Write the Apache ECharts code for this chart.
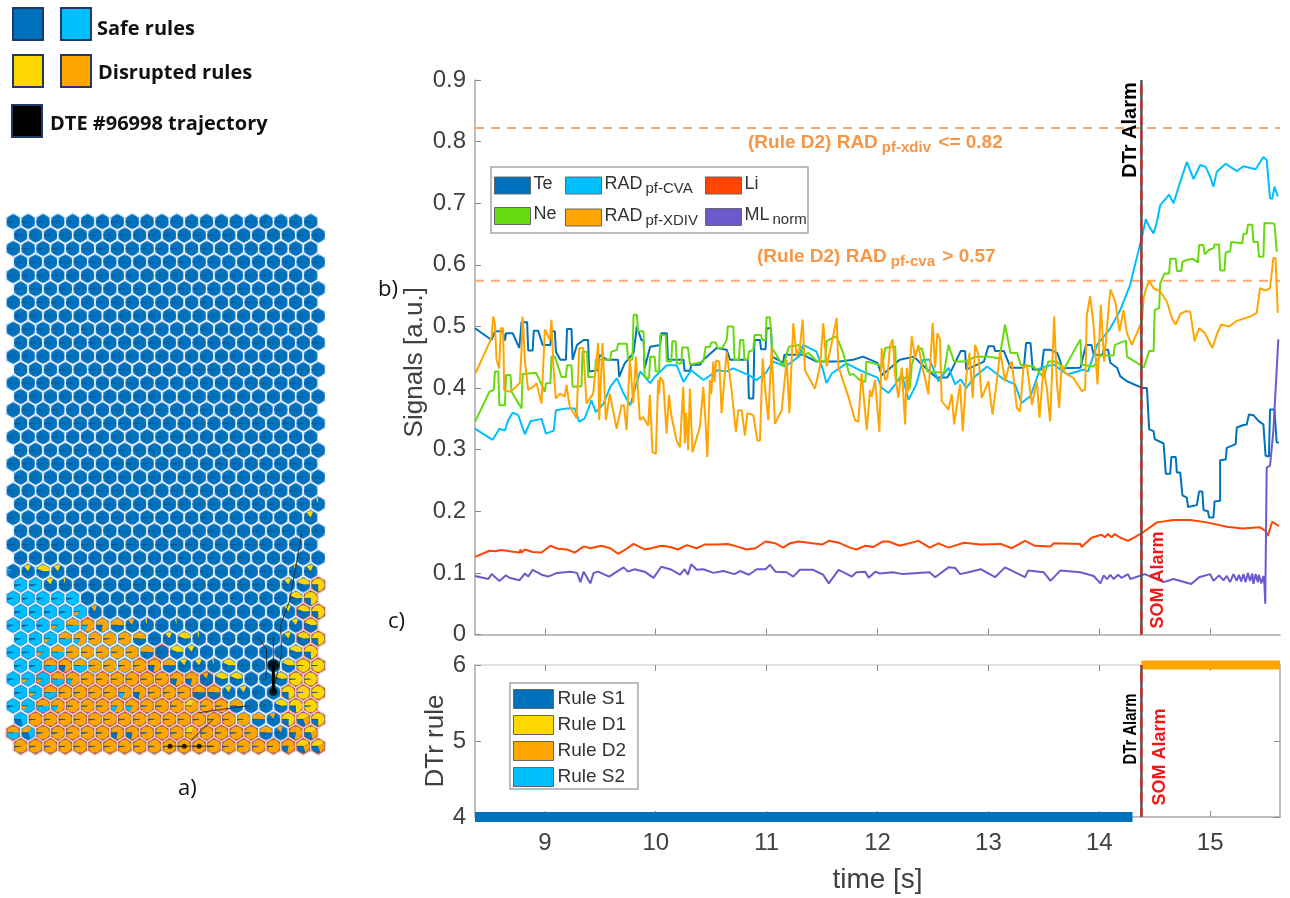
<!DOCTYPE html>
<html>
<head>
<meta charset="utf-8">
<style>html,body{margin:0;padding:0;background:#fff}#c{width:1290px;height:898px}</style>
<script src="https://cdn.jsdelivr.net/npm/echarts@6/dist/echarts.min.js"></script>
</head>
<body>
<div id="c"></div>
<script>
const timeTicks = [9, 10, 11, 12, 13, 14, 15];
const timeRange = [8.37, 15.63];
const alarmTime = 14.38;
const thresholdXdiv = 0.822;
const thresholdCva = 0.574;

const teSignal = [[8.37,.497],[8.52,.478],[8.55,.492],[8.62,.492],[8.64,.477],[8.65,.489],[8.71,.489],[8.77,.465],[8.79,.507],[8.84,.507],[8.85,.461],[8.89,.461],[8.9,.493],[8.94,.493],[8.98,.47],[9.05,.47],[9.06,.492],[9.09,.492],[9.1,.459],[9.14,.446],[9.19,.446],[9.2,.496],[9.24,.496],[9.25,.446],[9.29,.47],[9.35,.478],[9.39,.478],[9.4,.427],[9.48,.429],[9.49,.454],[9.56,.446],[9.66,.446],[9.67,.418],[9.72,.44],[9.8,.457],[9.83,.5],[9.87,.478],[9.89,.478],[9.9,.432],[9.95,.467],[10.04,.47],[10.05,.489],[10.1,.489],[10.11,.446],[10.25,.446],[10.26,.428],[10.31,.428],[10.32,.438],[10.4,.438],[10.43,.446],[10.55,.465],[10.64,.462],[10.67,.446],[10.83,.446],[10.84,.383],[10.88,.383],[10.89,.478],[10.94,.478],[10.95,.463],[10.99,.463],[11,.497],[11.04,.497],[11.05,.451],[11.15,.441],[11.16,.454],[11.33,.454],[11.45,.443],[11.66,.443],[11.78,.446],[11.87,.451],[12,.441],[12.04,.421],[12.1,.43],[12.2,.446],[12.33,.451],[12.39,.44],[12.53,.417],[12.63,.417],[12.67,.43],[12.75,.46],[12.79,.46],[12.8,.43],[12.96,.443],[13,.468],[13.05,.468],[13.06,.46],[13.14,.46],[13.2,.433],[13.32,.433],[13.34,.473],[13.38,.473],[13.4,.43],[13.48,.43],[13.5,.462],[13.56,.462],[13.62,.457],[13.65,.443],[13.66,.432],[13.83,.433],[13.88,.47],[13.93,.47],[13.95,.454],[14.03,.454],[14.04,.462],[14.08,.462],[14.1,.441],[14.16,.433],[14.19,.419],[14.25,.411],[14.39,.4],[14.43,.4],[14.45,.333],[14.49,.33],[14.5,.317],[14.58,.31],[14.6,.261],[14.64,.261],[14.65,.288],[14.69,.288],[14.7,.263],[14.73,.263],[14.75,.226],[14.79,.222],[14.8,.207],[14.88,.21],[14.9,.232],[14.93,.232],[14.94,.202],[14.98,.2],[14.99,.19],[15.03,.19],[15.04,.216],[15.09,.217],[15.09,.283],[15.14,.284],[15.15,.303],[15.23,.309],[15.24,.336],[15.3,.34],[15.33,.341],[15.35,.357],[15.39,.356],[15.44,.346],[15.48,.341],[15.5,.29],[15.53,.289],[15.54,.365],[15.58,.365],[15.6,.312],[15.62,.311]];

const radCvaSignal = [[8.37,.334],[8.44,.326],[8.53,.316],[8.59,.334],[8.64,.331],[8.67,.348],[8.71,.36],[8.76,.356],[8.82,.325],[8.87,.346],[8.97,.35],[9.01,.326],[9.08,.331],[9.1,.364],[9.2,.367],[9.27,.367],[9.31,.345],[9.36,.351],[9.42,.38],[9.46,.361],[9.53,.375],[9.59,.402],[9.65,.416],[9.71,.391],[9.77,.372],[9.81,.397],[9.86,.427],[9.95,.408],[9.99,.418],[10.1,.437],[10.19,.437],[10.25,.41],[10.32,.429],[10.43,.413],[10.52,.424],[10.56,.429],[10.64,.427],[10.7,.432],[10.76,.427],[10.84,.421],[10.91,.413],[10.99,.424],[11.06,.443],[11.17,.435],[11.29,.451],[11.33,.47],[11.45,.459],[11.51,.429],[11.54,.408],[11.59,.424],[11.72,.44],[11.84,.429],[12,.417],[12.04,.4],[12.1,.392],[12.16,.406],[12.22,.422],[12.28,.381],[12.35,.406],[12.41,.446],[12.47,.446],[12.55,.411],[12.64,.433],[12.7,.406],[12.75,.414],[12.8,.4],[12.88,.419],[12.99,.435],[13.14,.414],[13.24,.406],[13.3,.376],[13.38,.387],[13.47,.433],[13.59,.438],[13.71,.422],[13.86,.43],[13.9,.427],[13.98,.47],[14.1,.497],[14.19,.527],[14.28,.568],[14.3,.584],[14.39,.649],[14.42,.674],[14.45,.662],[14.49,.651],[14.52,.67],[14.55,.697],[14.63,.714],[14.67,.7],[14.72,.729],[14.79,.767],[14.85,.739],[14.91,.762],[14.96,.759],[15,.743],[15.03,.727],[15.06,.751],[15.14,.764],[15.24,.752],[15.3,.76],[15.41,.755],[15.48,.775],[15.51,.77],[15.54,.708],[15.56,.707],[15.58,.727],[15.61,.711]];

const neSignal = [[8.37,.345],[8.5,.394],[8.54,.397],[8.55,.427],[8.58,.427],[8.59,.372],[8.64,.372],[8.65,.421],[8.69,.421],[8.7,.394],[8.79,.367],[8.8,.423],[8.92,.425],[9,.394],[9.01,.408],[9.05,.408],[9.06,.451],[9.09,.451],[9.15,.418],[9.19,.418],[9.2,.437],[9.24,.437],[9.25,.402],[9.33,.403],[9.34,.459],[9.38,.459],[9.39,.418],[9.45,.418],[9.46,.446],[9.59,.446],[9.6,.459],[9.65,.462],[9.66,.472],[9.74,.472],[9.75,.446],[9.79,.446],[9.8,.519],[9.83,.519],[9.84,.492],[9.89,.492],[9.9,.418],[9.94,.416],[9.95,.451],[9.99,.451],[10,.427],[10.03,.427],[10.04,.486],[10.09,.486],[10.1,.443],[10.14,.443],[10.15,.476],[10.18,.476],[10.19,.44],[10.23,.44],[10.24,.466],[10.29,.466],[10.31,.438],[10.43,.443],[10.45,.467],[10.49,.467],[10.5,.474],[10.54,.474],[10.56,.465],[10.6,.465],[10.64,.478],[10.65,.5],[10.7,.5],[10.71,.446],[10.75,.446],[10.76,.478],[10.79,.478],[10.8,.446],[10.83,.446],[10.84,.459],[10.88,.462],[10.89,.486],[10.95,.486],[10.96,.478],[10.99,.478],[11,.515],[11.03,.515],[11.05,.465],[11.15,.435],[11.2,.467],[11.3,.47],[11.33,.454],[11.38,.457],[11.45,.444],[11.53,.444],[11.54,.476],[11.59,.481],[11.63,.484],[11.68,.462],[11.75,.421],[11.78,.423],[11.84,.413],[11.89,.41],[11.9,.443],[12.01,.438],[12.04,.434],[12.07,.465],[12.08,.468],[12.16,.468],[12.17,.411],[12.28,.419],[12.29,.398],[12.31,.438],[12.35,.46],[12.4,.465],[12.45,.427],[12.6,.425],[12.64,.47],[12.69,.443],[12.8,.443],[12.88,.451],[13,.451],[13.1,.448],[13.15,.503],[13.2,.457],[13.26,.457],[13.29,.438],[13.41,.435],[13.5,.417],[13.54,.443],[13.62,.443],[13.68,.43],[13.83,.479],[13.84,.438],[13.95,.435],[14.01,.453],[14.13,.453],[14.14,.47],[14.24,.477],[14.25,.451],[14.34,.441],[14.4,.433],[14.45,.46],[14.49,.46],[14.5,.527],[14.54,.53],[14.55,.57],[14.59,.586],[14.63,.586],[14.64,.61],[14.69,.61],[14.7,.59],[14.74,.59],[14.75,.605],[14.79,.608],[14.84,.61],[14.89,.604],[14.9,.632],[14.94,.632],[14.95,.617],[14.99,.624],[15.03,.627],[15.04,.633],[15.08,.633],[15.09,.591],[15.13,.591],[15.14,.62],[15.18,.622],[15.19,.637],[15.29,.635],[15.3,.65],[15.33,.651],[15.34,.665],[15.38,.665],[15.39,.637],[15.43,.637],[15.44,.613],[15.48,.613],[15.49,.668],[15.58,.667],[15.6,.623],[15.61,.622]];

const radXdivSignal = [[8.374,.424],[8.519,.481],[8.534,.516],[8.549,.505],[8.564,.446],[8.588,.432],[8.603,.497],[8.624,.497],[8.633,.397],[8.684,.394],[8.708,.397],[8.774,.408],[8.789,.459],[8.798,.516],[8.804,.505],[8.819,.446],[8.849,.397],[8.895,.402],[8.925,.408],[8.97,.375],[9,.495],[9.03,.484],[9.045,.478],[9.06,.511],[9.075,.44],[9.099,.383],[9.135,.391],[9.18,.386],[9.195,.405],[9.225,.37],[9.286,.351],[9.31,.465],[9.346,.465],[9.376,.375],[9.436,.391],[9.481,.473],[9.49,.348],[9.52,.473],[9.535,.47],[9.55,.348],[9.586,.391],[9.647,.334],[9.692,.372],[9.713,.372],[9.737,.332],[9.767,.448],[9.797,.375],[9.821,.451],[9.857,.348],[9.887,.353],[9.932,.339],[9.947,.389],[9.971,.296],[10.001,.293],[10.022,.413],[10.03,.39],[10.04,.418],[10.068,.41],[10.098,.326],[10.119,.389],[10.143,.353],[10.188,.315],[10.218,.304],[10.248,.402],[10.263,.31],[10.275,.36],[10.293,.299],[10.308,.399],[10.332,.296],[10.398,.337],[10.429,.402],[10.45,.342],[10.465,.288],[10.489,.413],[10.5,.39],[10.519,.443],[10.53,.41],[10.545,.445],[10.573,.443],[10.594,.359],[10.639,.459],[10.684,.397],[10.723,.329],[10.744,.364],[10.775,.364],[10.805,.323],[10.826,.359],[10.88,.356],[10.916,.315],[10.94,.315],[10.964,.448],[10.985,.402],[11.015,.348],[11.045,.465],[11.075,.342],[11.136,.364],[11.181,.446],[11.205,.359],[11.241,.505],[11.271,.451],[11.301,.467],[11.325,.511],[11.346,.429],[11.436,.399],[11.481,.435],[11.511,.505],[11.541,.435],[11.587,.473],[11.632,.514],[11.647,.435],[11.737,.386],[11.797,.348],[11.827,.345],[11.857,.424],[11.903,.332],[11.933,.397],[11.948,.386],[11.978,.413],[12.017,.329],[12.038,.465],[12.068,.413],[12.089,.416],[12.113,.468],[12.137,.479],[12.158,.422],[12.188,.384],[12.219,.433],[12.249,.341],[12.264,.433],[12.279,.395],[12.309,.484],[12.339,.449],[12.369,.47],[12.399,.438],[12.429,.416],[12.459,.39],[12.498,.506],[12.519,.433],[12.54,.489],[12.564,.479],[12.579,.379],[12.64,.365],[12.67,.39],[12.691,.341],[12.721,.379],[12.745,.406],[12.769,.33],[12.799,.416],[12.829,.457],[12.859,.384],[12.88,.47],[12.91,.454],[12.94,.384],[13,.411],[13.037,.357],[13.076,.411],[13.106,.46],[13.151,.411],[13.181,.433],[13.211,.443],[13.256,.368],[13.286,.362],[13.316,.433],[13.347,.438],[13.392,.373],[13.437,.411],[13.461,.352],[13.497,.433],[13.527,.4],[13.557,.346],[13.593,.516],[13.617,.411],[13.638,.368],[13.662,.438],[13.692,.425],[13.768,.416],[13.843,.395],[13.873,.398],[13.888,.519],[13.918,.549],[13.948,.503],[13.984,.406],[14.014,.535],[14.044,.443],[14.099,.56],[14.144,.541],[14.183,.492],[14.219,.527],[14.249,.489],[14.294,.47],[14.384,.508],[14.4,.546],[14.42,.56],[14.45,.574],[14.49,.562],[14.55,.557],[14.61,.54],[14.66,.511],[14.69,.503],[14.73,.52],[14.78,.525],[14.82,.524],[14.86,.476],[14.9,.497],[14.95,.49],[15.02,.465],[15.06,.487],[15.1,.503],[15.17,.5],[15.24,.509],[15.36,.516],[15.42,.522],[15.45,.562],[15.5,.558],[15.54,.562],[15.57,.611],[15.59,.611],[15.61,.522]];

const liSignal = [[8.37,.126],[8.5,.136],[8.55,.135],[8.61,.137],[8.68,.135],[8.77,.133],[8.78,.138],[8.79,.133],[8.82,.138],[8.89,.134],[8.97,.133],[9.05,.144],[9.12,.139],[9.2,.138],[9.27,.133],[9.35,.143],[9.41,.14],[9.51,.144],[9.59,.14],[9.66,.131],[9.71,.136],[9.8,.147],[9.9,.138],[9.96,.14],[10.05,.144],[10.13,.142],[10.2,.138],[10.28,.145],[10.37,.14],[10.44,.146],[10.55,.146],[10.65,.147],[10.73,.143],[10.82,.138],[10.9,.14],[10.99,.151],[11.08,.148],[11.15,.141],[11.21,.148],[11.29,.151],[11.5,.146],[11.56,.152],[11.65,.149],[11.75,.141],[11.81,.138],[11.89,.144],[11.96,.142],[12.05,.151],[12.1,.151],[12.2,.144],[12.37,.152],[12.47,.141],[12.55,.148],[12.64,.141],[12.78,.149],[12.93,.146],[13.11,.147],[13.21,.14],[13.33,.152],[13.42,.144],[13.56,.143],[13.59,.148],[13.83,.147],[13.84,.142],[13.93,.157],[14.02,.162],[14.05,.158],[14.08,.163],[14.11,.158],[14.14,.163],[14.19,.157],[14.26,.152],[14.38,.164],[14.52,.182],[14.67,.186],[14.82,.186],[14.97,.182],[15.15,.175],[15.29,.172],[15.45,.174],[15.5,.168],[15.52,.16],[15.56,.183],[15.62,.176]];

const mlSignal = [[8.37,.095],[8.49,.09],[8.52,.098],[8.59,.087],[8.65,.096],[8.68,.092],[8.77,.088],[8.82,.099],[8.85,.094],[8.89,.105],[8.97,.097],[9.03,.094],[9.11,.1],[9.23,.102],[9.29,.1],[9.32,.085],[9.35,.102],[9.41,.083],[9.44,.1],[9.48,.102],[9.58,.094],[9.71,.109],[9.75,.102],[9.81,.106],[9.9,.102],[9.98,.092],[10.05,.11],[10.13,.106],[10.22,.097],[10.26,.106],[10.29,.097],[10.32,.114],[10.37,.105],[10.43,.106],[10.52,.1],[10.61,.103],[10.71,.098],[10.76,.103],[10.84,.097],[10.91,.106],[10.99,.106],[11.03,.113],[11.08,.102],[11.18,.101],[11.24,.094],[11.3,.105],[11.42,.105],[11.51,.097],[11.56,.083],[11.65,.105],[11.77,.094],[11.81,.101],[11.89,.102],[11.92,.092],[11.98,.102],[12.02,.099],[12.14,.101],[12.23,.098],[12.47,.101],[12.52,.093],[12.64,.109],[12.7,.108],[12.745,.098],[12.82,.101],[12.93,.106],[13.06,.093],[13.15,.109],[13.33,.093],[13.36,.104],[13.5,.101],[13.56,.087],[13.65,.104],[13.83,.101],[13.95,.095],[14.01,.083],[14.04,.096],[14.07,.09],[14.1,.097],[14.13,.09],[14.17,.097],[14.2,.092],[14.26,.098],[14.28,.09],[14.41,.098],[14.58,.085],[14.67,.09],[14.83,.082],[14.9,.093],[15,.098],[15.03,.087],[15.08,.096],[15.12,.088],[15.15,.095],[15.18,.085],[15.21,.098],[15.24,.087],[15.26,.097],[15.28,.086],[15.3,.098],[15.32,.085],[15.34,.1],[15.36,.087],[15.38,.099],[15.39,.082],[15.41,.098],[15.43,.085],[15.44,.097],[15.46,.083],[15.48,.095],[15.49,.08],[15.497,.05],[15.51,.271],[15.54,.274],[15.57,.33],[15.615,.479]];

const ruleS1Span = [[8.37,4],[14.3,4]];
const ruleD2Span = [[14.38,6],[15.63,6]];

const alarmSpanTop = [[alarmTime,0],[alarmTime,.9]];
const alarmSpanBottom = [[alarmTime,4],[alarmTime,6]];

const safeRow = 'BBBBBBBBBBBBBBBBBBBBB';
const mapRuleRows = [
  safeRow,safeRow,safeRow,safeRow,safeRow,safeRow,safeRow,safeRow,safeRow,safeRow,
  safeRow,safeRow,safeRow,safeRow,safeRow,safeRow,safeRow,safeRow,safeRow,safeRow,safeRow,
  'BBBBBBBBBBBBBBBBBBBBt',
  'BBBBBBBBBBBBBBBBBBBBa',
  safeRow,safeRow,safeRow,
  'uabaBBBBBBBBBBBBBBBta',
  'CCatBBBBBBBBBBBBBBabc',
  'CCCCCBBBBBBBBBBBBBBbc',
  'CCCCfkBBBBBBBBBBBBabc',
  'CCCfhgdektBtBBBBBBBab',
  'CCfhgOOOeBabtBBBBBabc',
  'CCfhOOOOOeBbaBBBBBBbc',
  'CChdhOOOOdeaatbBBBbYY',
  'CffhgOOOOOOddkbbBBbYY',
  'CfhOOOOgdOOOeeaaBBcYY',
  'CfhgOOOggOOOmOOeBBbcY',
  'qOOOOOOOOOOOOOOOekcnc',
  'hpOOOOOddOOOmOOOOekdn',
  'OOOOOOOOOOOOOOOOOOdnn'
];
const plainRow = '.....................';
const mapOutlineRows = [
  plainRow,plainRow,plainRow,plainRow,plainRow,plainRow,plainRow,plainRow,plainRow,plainRow,
  plainRow,plainRow,plainRow,plainRow,plainRow,plainRow,plainRow,plainRow,plainRow,plainRow,
  plainRow,plainRow,plainRow,plainRow,plainRow,plainRow,plainRow,
  '....................x',
  '....................x',
  '...................xx',
  '.....x..............x',
  '...................xx',
  '..........x.........x',
  '..xx....xx.........xx',
  '..xxxxxxxxxxxx.....xx',
  '..xxxxxxxxxxxx....xxx',
  '..xxxxxxxxxxxxx....xx',
  '.xxxxxxxxxxxxxx...xxx',
  'x.xxxxxxxxxxxxxxx..xx',
  'xxxxxxxxxxxxxxxxxxxxx'
];
/* start angle (deg clockwise from the left spoke), then shares of yellow, orange, cyan, blue */
const glyphShares = {
  B:[0,0,0,0,1], t:[70,.05,0,0,.95], a:[50,.18,0,0,.82], b:[25,.42,0,0,.58], c:[0,.75,0,0,.25], Y:[0,.98,0,0,.02],
  C:[0,0,0,.95,.05], f:[-45,0,.13,.87,0], h:[0,0,.5,.5,0], g:[0,0,.82,.18,0], O:[0,0,.97,0,.03], d:[0,0,.78,0,.22],
  e:[0,0,.5,0,.5], k:[50,0,.16,0,.84], m:[0,.3,.7,0,0], n:[0,.42,.28,0,.3], u:[-20,0,0,.14,.86], p:[0,0,.35,.35,.3], q:[0,0,0,.7,.3]
};
const trajectoryThin = [[17.49,32.96],[17.49,30.86],null,[17,33.95],[17.04,31.84],[16.48,30.86],null,[17.49,34.94],[18.05,32.09],[17.98,30],[18.6,28.13],[19.4,23.2],null,[12,38.5],[13.45,37],null,[12.5,36.5],[15.7,36],null,[10.54,39],[13.45,39]];
const trajectoryThick = [[17.49,32.96],[17.49,34.94]];
const trajectoryDots = [[17.49,32.96,11],[17.49,34.94,8],[10.54,39,5],[11.5,39,5],[12.5,39,5]];

const COL = {te:'#0072BD', cva:'#00BFFF', li:'#FF4500', ne:'#66D90F', xdiv:'#FFA500', ml:'#6A5ACD', d1:'#FFD700', thr:'#F9A66C', thrText:'#F79646'};
const SANS = '"Liberation Sans", Arial, sans-serif';
const TITLE = '"Open Sans", "Noto Sans", sans-serif';

const mapCells = [];
mapRuleRows.forEach((row, r) => {
  for (let c = 0; c < row.length; c++) {
    mapCells.push([c + (r % 2 ? 0.5 : 0), r, row.charCodeAt(c), mapOutlineRows[r][c] === 'x' ? 1 : 0]);
  }
});

function renderCell(params, api) {
  const p = api.coord([api.value(0), api.value(1)]);
  const size = api.size([1, 1]);
  const hw = size[0] / 2, hh = size[1] * 2 / 3;
  const red = api.value(3) === 1;
  const g = glyphShares[String.fromCharCode(api.value(2))];
  const r = hw * 0.86;
  const children = [{
    type: 'polygon',
    shape: {points: [[p[0],p[1]-hh],[p[0]+hw,p[1]-hh/2],[p[0]+hw,p[1]+hh/2],[p[0],p[1]+hh],[p[0]-hw,p[1]+hh/2],[p[0]-hw,p[1]-hh/2]]},
    style: {fill: red ? '#C4504C' : '#5B9BD5', stroke: red ? '#F0D0CA' : '#F0F5FA', lineWidth: 1.3}
  }];
  let a = Math.PI + g[0] * Math.PI / 180;
  const cols = [COL.d1, COL.xdiv, COL.cva, COL.te];
  children.push({type:'circle', shape:{cx:p[0], cy:p[1], r}, style:{fill: COL.te}});
  for (let i = 0; i < 4; i++) {
    const s = g[i + 1];
    if (s <= 0) continue;
    const e = a + s * 2 * Math.PI;
    children.push({type:'sector', shape:{cx:p[0], cy:p[1], r0:0, r, startAngle:a, endAngle:e, clockwise:true}, style:{fill: cols[i]}});
    a = e;
  }
  children.push({type:'line', shape:{x1:p[0]-r, y1:p[1], x2:p[0], y2:p[1]}, style:{stroke:'#1C4E80', lineWidth:1, opacity:.8}});
  return {type:'group', children};
}

function lineSeries(name, data, color, extra) {
  return Object.assign({name, type:'line', data, symbol:'none', showSymbol:false, animation:false,
    lineStyle:{color, width:2}, itemStyle:{color}, xAxisIndex:0, yAxisIndex:0, silent:true}, extra || {});
}
function richName(name) {
  const m = {
    'RAD pf-CVA':'{a|RAD}{b|pf-CVA}', 'RAD pf-XDIV':'{a|RAD}{b|pf-XDIV}', 'ML norm':'{a|ML}{b|norm}'
  };
  return m[name] || '{a|' + name + '}';
}
const legendRich = {
  a:{fontFamily:SANS, fontSize:18, color:'#333', lineHeight:21, verticalAlign:'top'},
  b:{fontFamily:SANS, fontSize:15, color:'#333', lineHeight:14, verticalAlign:'bottom', padding:[14,0,0,3]}
};
function signalLegend(names, left, top, gap) {
  return {data:names, left, top, orient:'vertical', padding:0, itemWidth:36, itemHeight:17, itemGap:gap,
    icon:'rect', itemStyle:{borderColor:'#666', borderWidth:1}, selectedMode:false, formatter:richName,
    textStyle:{rich:legendRich, padding:[0,0,0,-2]}, z:20};
}
function alarmPair(data, xi, yi) {
  return [
    {type:'line', data, symbol:'none', animation:false, silent:true, xAxisIndex:xi, yAxisIndex:yi, z:8, clip:false, lineStyle:{color:'#555', width:2.5}},
    {type:'line', data, symbol:'none', animation:false, silent:true, xAxisIndex:xi, yAxisIndex:yi, z:9, clip:false, lineStyle:{color:'#F01818', width:2, type:[9,6]}}
  ];
}
function rotated(text, x, y, color, size, squeeze) {
  return {type:'text', x, y, rotation:Math.PI/2, scaleX:squeeze||1, z:30, style:{text, fill:color, font:'bold '+size+'px '+SANS, align:'center', verticalAlign:'middle'}};
}
function swatch(x, y, fill) {
  return {type:'rect', shape:{x, y, width:30, height:32}, style:{fill, stroke:'#1F3864', lineWidth:2}, z:5};
}
function caption(text, x, y, size, weight) {
  return {type:'text', x, y, z:5, style:{text, fill:'#111', font:(weight||'normal')+' '+size+'px '+TITLE, align:'left', verticalAlign:'middle'}};
}
function ruleNote(text, x, y) {
  return {type:'text', x, y, z:12, style:{text, align:'left', verticalAlign:'middle',
    rich:{m:{font:'bold 19px '+SANS, fill:COL.thrText, lineHeight:22, verticalAlign:'top'}, s:{font:'bold 15px '+SANS, fill:COL.thrText, lineHeight:14, verticalAlign:'bottom', padding:[14,2,0,4]}}}};
}

const axisGrey = '#A8A8A8';
const tickStyle = {inside:true, length:6, lineStyle:{color:'#8C8C8C', width:1}};
const labelGrey = {color:'#404040', fontFamily:SANS, fontSize:24};

const option = {
  animation:false,
  backgroundColor:'#fff',
  grid:[
    {left:475, top:80, width:805, height:554.5},
    {left:475, top:665, width:805, height:152},
    {left:13.3, top:221.7, width:304.8, height:524.55}
  ],
  xAxis:[
    {gridIndex:0, type:'value', min:timeRange[0], max:timeRange[1], splitLine:{show:false},
      axisLine:{lineStyle:{color:axisGrey, width:1.5}}, axisTick:Object.assign({customValues:timeTicks}, tickStyle), axisLabel:{show:false, customValues:timeTicks}},
    {gridIndex:1, type:'value', min:timeRange[0], max:timeRange[1], splitLine:{show:false},
      name:'time [s]', nameLocation:'middle', nameGap:49, nameTextStyle:{color:'#404040', fontFamily:SANS, fontSize:28},
      axisLine:{lineStyle:{color:axisGrey, width:1.5}}, axisTick:Object.assign({customValues:timeTicks}, tickStyle),
      axisLabel:Object.assign({customValues:timeTicks, margin:14, hideOverlap:false}, labelGrey)},
    {gridIndex:1, type:'value', position:'top', min:timeRange[0], max:timeRange[1], splitLine:{show:false},
      axisLine:{lineStyle:{color:'#D8D8D8', width:1.5}}, axisTick:Object.assign({customValues:timeTicks}, tickStyle), axisLabel:{show:false, customValues:timeTicks}},
    {gridIndex:2, type:'value', min:0, max:20.5, show:false}
  ],
  yAxis:[
    {gridIndex:0, type:'value', min:0, max:.9, interval:.1, splitLine:{show:false},
      name:'Signals [a.u.]', nameLocation:'middle', nameGap:47, nameMoveOverlap:false, nameRotate:90, nameTextStyle:{color:'#404040', fontFamily:SANS, fontSize:26, padding:[0,10,0,0]},
      axisLine:{show:true, lineStyle:{color:axisGrey, width:1.5}}, axisTick:Object.assign({show:true}, tickStyle),
      axisLabel:Object.assign({margin:9, padding:[4,0,0,0]}, labelGrey)},
    {gridIndex:1, type:'value', min:4, max:6, interval:1, splitLine:{show:false},
      name:'DTr rule', nameLocation:'middle', nameGap:26, nameMoveOverlap:false, nameRotate:90, nameTextStyle:{color:'#404040', fontFamily:SANS, fontSize:26},
      axisLine:{show:true, lineStyle:{color:axisGrey, width:1.5}}, axisTick:Object.assign({show:true}, tickStyle),
      axisLabel:Object.assign({margin:9, padding:[6,0,0,0]}, labelGrey)},
    {gridIndex:1, type:'value', position:'right', min:4, max:6, interval:1, splitLine:{show:false},
      axisLine:{show:true, lineStyle:{color:axisGrey, width:1.5}}, axisTick:Object.assign({show:true}, tickStyle), axisLabel:{show:false}},
    {gridIndex:2, type:'value', min:0, max:39, inverse:true, show:false}
  ],
  legend:[
    signalLegend(['Te','Ne'], 494, 175, 11),
    signalLegend(['RAD pf-CVA','RAD pf-XDIV'], 565, 167, 3),
    signalLegend(['Li','ML norm'], 705, 175, 4),
    {data:['Rule S1','Rule D1','Rule D2','Rule S2'], left:513, top:689, orient:'vertical', padding:0, itemWidth:40, itemHeight:19, itemGap:6,
      icon:'rect', itemStyle:{borderColor:'#666', borderWidth:1}, selectedMode:false,
      textStyle:{color:'#333', fontFamily:SANS, fontSize:19, padding:[0,0,0,-1]}, z:20}
  ],
  series:[
    {type:'line', data:[[timeRange[0],thresholdXdiv],[timeRange[1],thresholdXdiv]], symbol:'none', silent:true, z:1, lineStyle:{color:COL.thr, width:2, type:[9,7]}},
    {type:'line', data:[[timeRange[0],thresholdCva],[timeRange[1],thresholdCva]], symbol:'none', silent:true, z:1, lineStyle:{color:COL.thr, width:2, type:[9,7]}},
    lineSeries('Te', teSignal, COL.te, {z:2}),
    lineSeries('RAD pf-CVA', radCvaSignal, COL.cva, {z:3}),
    lineSeries('Ne', neSignal, COL.ne, {z:4}),
    lineSeries('RAD pf-XDIV', radXdivSignal, COL.xdiv, {z:5}),
    lineSeries('Li', liSignal, COL.li, {z:5}),
    lineSeries('ML norm', mlSignal, COL.ml, {z:6}),
    ...alarmPair(alarmSpanTop, 0, 0),
    lineSeries('Rule S1', ruleS1Span, COL.te, {xAxisIndex:1, yAxisIndex:1, clip:false, z:3, lineStyle:{color:COL.te, width:10, cap:'butt'}}),
    lineSeries('Rule D1', [], COL.d1, {xAxisIndex:1, yAxisIndex:1}),
    lineSeries('Rule D2', ruleD2Span, COL.xdiv, {xAxisIndex:1, yAxisIndex:1, clip:false, z:3, lineStyle:{color:COL.xdiv, width:9, cap:'butt'}}),
    lineSeries('Rule S2', [], COL.cva, {xAxisIndex:1, yAxisIndex:1}),
    ...alarmPair(alarmSpanBottom, 1, 1),
    {type:'custom', xAxisIndex:3, yAxisIndex:3, data:mapCells, renderItem:renderCell, silent:true, clip:false, z:1, animation:false},
    {type:'line', xAxisIndex:3, yAxisIndex:3, data:trajectoryThin, connectNulls:false, symbol:'none', silent:true, z:4, lineStyle:{color:'#1a1a1a', width:1, opacity:.8}},
    {type:'line', xAxisIndex:3, yAxisIndex:3, data:trajectoryThick, symbol:'none', silent:true, z:5, lineStyle:{color:'#000', width:3}},
    {type:'scatter', xAxisIndex:3, yAxisIndex:3, data:trajectoryDots, symbolSize:v=>v[2], silent:true, z:6, itemStyle:{color:'#000'}}
  ],
  graphic:[
    swatch(13,8,COL.te), swatch(61,8,COL.cva), swatch(13,55,COL.d1), swatch(61,55,COL.xdiv), swatch(12,105,'#000'),
    caption('Safe rules',97,29,20,'bold'),
    caption('Disrupted rules',98,73,20,'bold'),
    caption('DTE #96998 trajectory',50,124,20,'bold'),
    caption('a)',178,789,22),
    caption('b)',378,290,22),
    caption('c)',388,622,22),
    {type:'rect', shape:{x:491, y:167, width:317, height:66}, style:{fill:'#fff', stroke:'#A6A6A6', lineWidth:1.5}, z:10},
    {type:'rect', shape:{x:510, y:683, width:128, height:106}, style:{fill:'#fff', stroke:'#A6A6A6', lineWidth:1.5}, z:10},
    ruleNote('{m|(Rule D2) RAD}{s|pf-xdiv}{m| <= 0.82}', 748, 144),
    ruleNote('{m|(Rule D2) RAD}{s|pf-cva}{m| > 0.57}', 757, 258),
    rotated('DTr Alarm',1130,130,'#000',20),
    rotated('SOM Alarm',1158,580,'#F01818',18),
    rotated('DTr Alarm',1131,729,'#000',19,.78),
    rotated('SOM Alarm',1160,757,'#F01818',18)
  ]
};
const chart = echarts.init(document.getElementById('c'), null, {renderer:'canvas'});
chart.setOption(option);
</script>
</body>
</html>
